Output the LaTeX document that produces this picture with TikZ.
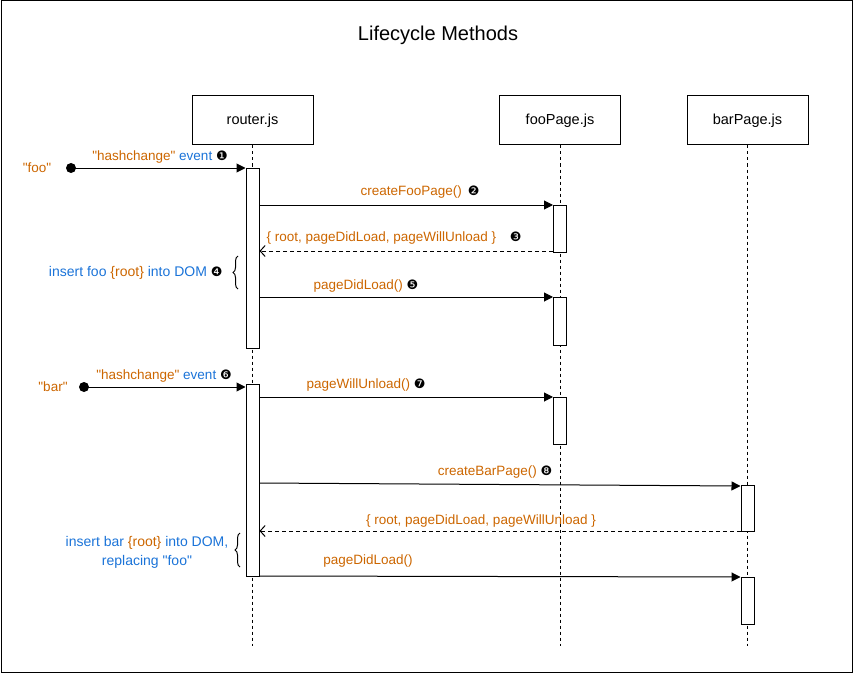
\documentclass[tikz,border=0pt]{standalone}
\usepackage{fontspec}
\setmainfont{Liberation Sans}[Ligatures=TeXOff]
\newfontfamily\dingfont{DejaVu Sans}
\usetikzlibrary{arrows.meta,decorations.pathreplacing,positioning,calc}
\definecolor{codeorange}{RGB}{204,102,0}
\definecolor{noteblue}{RGB}{26,115,216}
\newcommand{\cnum}[1]{{\dingfont\fontsize{13}{15}\selectfont\color{black}#1}}

\tikzset{
  actor/.style={draw, minimum width=121pt, minimum height=49pt, inner sep=0pt, font=\fontsize{14.5}{17}\selectfont},
  lifeline/.style={dash pattern=on 3pt off 3pt},
  actbar/.style={draw, fill=white, minimum width=13pt, inner sep=0pt, anchor=north},
  call/.style={-{Triangle[length=9pt,width=9pt]}},
  reply/.style={dash pattern=on 4pt off 3pt, -{Straight Barb[length=5pt,width=11pt]}},
  msg/.style={font=\fontsize{13.5}{16}\selectfont, text=codeorange, inner sep=1pt},
  note/.style={font=\fontsize{14}{19}\selectfont, text=noteblue, inner sep=1pt, align=center},
  startdot/.style={circle, fill, inner sep=0pt, minimum size=10pt},
  curly/.style={decorate, decoration={brace, amplitude=5pt}},
}

\begin{document}
\begin{tikzpicture}[x=1pt,y=-1pt,line width=1pt]
  \useasboundingbox (0,0) rectangle (854,674);
  % frame
  \draw (1,1) rectangle (852,672);
  \node[font=\fontsize{20}{24}\selectfont] (title) at (438,35) {Lifecycle Methods};

  % actors
  \node[actor] (router) at (252.5,120.5) {router.js};
  \node[actor] (foo) at (560,120.5) {fooPage.js};
  \node[actor] (bar) at (747.5,120.5) {barPage.js};

  % lifelines
  \draw[lifeline] (router.south) -- ++(0,500);
  \draw[lifeline] (foo.south) -- ++(0,500);
  \draw[lifeline] (bar.south) -- ++(0,500);

  % activation bars
  \node[actbar, minimum height=180pt] (rA1) at (252.5,168) {};
  \node[actbar, minimum height=192pt] (rA2) at (252.5,384) {};
  \node[actbar, minimum height=47pt] (fA1) at (560,205) {};
  \node[actbar, minimum height=48pt] (fA2) at (560,297) {};
  \node[actbar, minimum height=47pt] (fA3) at (560,397) {};
  \node[actbar, minimum height=46pt] (bA1) at (747.5,485) {};
  \node[actbar, minimum height=47pt] (bA2) at (747.5,577) {};

  % "foo" navigation
  \node[startdot] (s1) at (71,168) {};
  \node[msg] (foolbl) at (37,168) {"foo"};
  \draw[call] (s1.center) -- (rA1.north west);
  \node[msg] (l1) at (160,157) {"hashchange" \textcolor{noteblue}{event} \cnum{❶}};

  \draw[call] (rA1.east |- fA1.north west) -- (fA1.north west);
  \node[msg] (l2) at (420,192) {createFooPage()\, \cnum{❷}};

  \coordinate (f1back) at ($(fA1.south west)+(0,-2)$);
  \draw[reply] (f1back) -- (rA1.east |- f1back);
  \node[msg] (l3) at (394,238) {\{ root, pageDidLoad, pageWillUnload \}\quad\cnum{❸}};

  \draw[curly] (238,289) -- (238,256);
  \node[note, anchor=east] (n4) at (224,273) {insert foo \textcolor{codeorange}{\{root\}} into DOM \cnum{❹}};

  \draw[call] (rA1.east |- fA2.north west) -- (fA2.north west);
  \node[msg] (l5) at (366,286) {pageDidLoad() \cnum{❺}};

  % "bar" navigation
  \node[startdot] (s2) at (84,387) {};
  \node[msg] (barlbl) at (53,387) {"bar"};
  \draw[call] (s2.center) -- (rA2.west |- s2.center);
  \node[msg] (l6) at (164,376) {"hashchange" \textcolor{noteblue}{event} \cnum{❻}};

  \draw[call] (rA2.east |- fA3.north west) -- (fA3.north west);
  \node[msg] (l7) at (366,385) {pageWillUnload() \cnum{❼}};

  \coordinate (r8) at ($(rA2.north east)+(0,99)$);
  \draw[call] (r8) -- ($(bA1.north west)+(0,1)$);
  \node[msg] (l8) at (495,472) {createBarPage() \cnum{❽}};

  \coordinate (b1back) at ($(bA1.south west)+(0,-1)$);
  \draw[reply] (b1back) -- (rA2.east |- b1back);
  \node[msg] (l9) at (481,521) {\{ root, pageDidLoad, pageWillUnload \}};

  \draw[curly] (240,567) -- (240,533);
  \node[note] (n10) at (147,552) {insert bar \textcolor{codeorange}{\{root\}} into DOM,\\ replacing "foo"};

  \draw[call] ($(rA2.south east)+(0,-1)$) -- (bA2.north west);
  \node[msg] (l11) at (368,561) {pageDidLoad()};
\end{tikzpicture}
\end{document}
